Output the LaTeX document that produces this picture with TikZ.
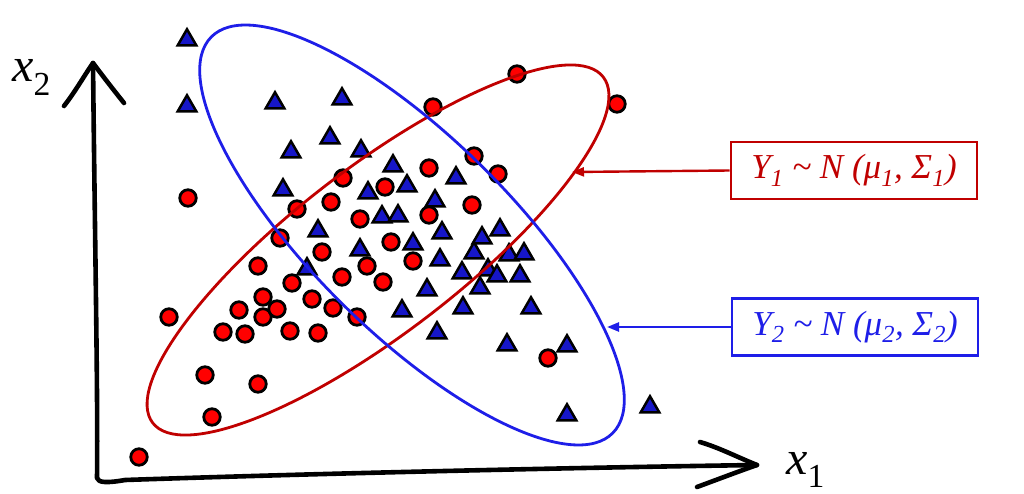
\documentclass[tikz,border=0pt]{standalone}
\usepackage{fontspec}
\setmainfont{Liberation Serif}
\usetikzlibrary{shapes.geometric,arrows.meta}
\definecolor{dred}{RGB}{192,0,0}
\definecolor{eblue}{RGB}{30,30,232}
\definecolor{tblue}{RGB}{22,22,200}
\newcommand\sbs[1]{\textsubscript{#1}}
\begin{document}
\begin{tikzpicture}[x=1pt,y=-1pt,
  dot/.style={circle,draw=black,fill=red,line width=2.8pt,minimum size=16.5pt,inner sep=0pt},
  tri/.style={regular polygon,regular polygon sides=3,draw=black,fill=tblue,line width=2.5pt,minimum size=21.5pt,inner sep=0pt},
  axis/.style={line width=4.6pt,line cap=round,line join=round,black},
  ell/.style={line width=2.8pt},
  lbox/.style={line width=2.6pt,minimum width=246pt,minimum height=57pt,inner sep=0pt,font=\fontsize{35}{40}\selectfont\itshape},
  conn/.style={line width=2.4pt,-{Triangle[length=12pt,width=9pt]}},
  axlbl/.style={anchor=base west,inner sep=0pt,font=\fontsize{48}{52}\selectfont\itshape}
]
\useasboundingbox (0,0) rectangle (1024,494);
\fill[white] (0,0) rectangle (1024,494);

% axes
\coordinate (O) at (97,478);
\coordinate (ytip) at (93,63);
\coordinate (xtip) at (757,465);
\draw[axis] (ytip) .. controls (95,250) and (98,400) .. (O)
  .. controls (98,483) and (108,483) .. (125,480)
  .. controls (300,474) and (550,468) .. (xtip);
\draw[axis] (64,106) .. controls (75,92) and (84,76) .. (ytip)
  .. controls (102,75) and (112,88) .. (124,103);
\draw[axis] (700,442) .. controls (720,448) and (737,457) .. (xtip)
  .. controls (737,472) and (716,480) .. (697,487);
\node[axlbl] (xtwo) at (12,82) {x\sbs{\upshape 2}};
\node[axlbl] (xone) at (786,474) {x\sbs{\upshape 1}};

% circles
\foreach \px/\py [count=\i] in {188/198,169/317,139/457,205/375,212/417,258/384,223/332,245/334,290/331,318/333,
  239/310,263/317,277/309,263/297,292/283,312/299,333/308,357/317,258/266,280/238,
  322/252,297/209,331/202,343/178,342/277,367/266,383/282,391/242,413/261,360/219,
  385/187,429/168,429/215,472/205,474/156,498/174,433/107,517/74,617/104,548/358}
  \node[dot] (c\i) at (\px,\py) {};

% triangles
\foreach \px/\py [count=\i] in {187/37,187/103,275/100,342/96,330/135,291/149,361/148,393/163,407/183,456/175,
  283/187,368/190,435/198,382/214,398/213,318/228,442/230,482/235,500/227,413/241,
  360/247,474/250,509/252,524/251,440/257,462/270,488/267,497/273,520/273,480/285,
  427/287,463/305,531/305,402/308,437/330,507/342,567/343,567/412,650/404,307/266}
  \node[tri] (t\i) at (\px,\py+3) {};

% ellipses
\draw[ell,dred,rotate around={37.5:(378,250)}] (378,250) ellipse [x radius=284pt,y radius=83pt];
\draw[ell,eblue,rotate around={-44.6:(412,235)}] (412,235) ellipse [x radius=282pt,y radius=98pt];

% labels
\node[lbox,draw=dred,text=dred] (rbox) at (854,170.5) {Y\sbs{1} \textasciitilde{} N (μ\sbs{1}, Σ\sbs{1})};
\node[lbox,draw=eblue,text=eblue] (bbox) at (855,327) {Y\sbs{2} \textasciitilde{} N (μ\sbs{2}, Σ\sbs{2})};
\coordinate (rtip) at (572,172);
\coordinate (btip) at (607,327);
\draw[conn,dred] (rbox.west) -- (rtip);
\draw[conn,eblue] (bbox.west) -- (btip);
\end{tikzpicture}
\end{document}
